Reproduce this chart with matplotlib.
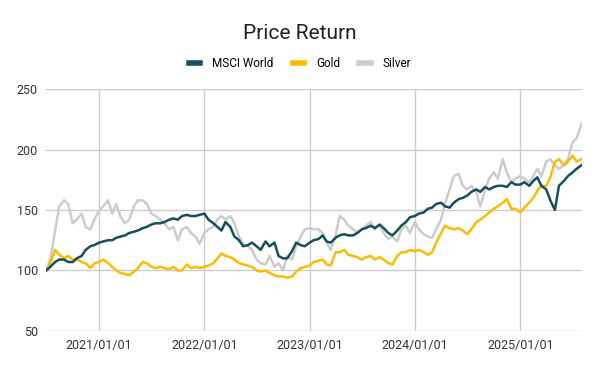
import numpy as np
import pandas as pd
import matplotlib
matplotlib.use("Agg")
import matplotlib.pyplot as plt

plt.rcParams['font.family'] = ['Roboto', 'DejaVu Sans']

# half-monthly readings, 2020-07-01 to 2025-08-01
dates = pd.date_range("2020-07-01", "2025-08-01", freq="SMS")

msci = [100, 103, 107, 109, 109, 107, 107, 110, 112, 117, 120, 121,
        123, 124, 125, 125, 127, 128, 129, 131, 132, 133, 135, 136,
        138, 139, 139, 140, 142, 143, 142, 145, 146, 145, 145, 146,
        147, 142, 139, 136, 133, 140, 136, 128, 125, 120, 121, 123,
        120, 117, 124, 120, 123, 112, 110, 110, 116, 123, 121, 120,
        123, 125,
        126, 129, 124, 123, 127, 129, 130, 129, 129, 131, 134, 135,
        137, 135, 138, 135, 131, 129, 133, 137, 140, 144, 145, 147,
        148, 151, 152, 155, 156, 153, 152, 156, 159, 160, 162, 165,
        167, 165, 169, 167, 169, 170, 170, 169, 173, 171, 171, 173,
        170, 174, 177, 170, 167, 158, 150, 170, 174, 178, 181, 184,
        187]

gold = [100, 106, 117, 113, 110, 112, 109, 109, 107, 106, 102, 106,
        107, 109, 106, 103, 100, 98, 97, 96, 99, 102, 107, 106,
        103, 102, 103, 102, 101, 103, 100, 100, 105, 102, 103, 102,
        103, 104, 106, 110, 114, 112, 111, 109, 106, 105, 104, 103,
        100, 99, 100, 98, 96, 95, 95, 94, 95, 99, 102, 103,
        104, 107,
        108, 109, 105, 104, 115, 115, 117, 113, 112, 111, 109, 111,
        112, 109, 111, 109, 106, 105, 112, 115, 115, 117, 116, 117,
        115, 113, 115, 123, 131, 137, 135, 134, 135, 133, 130, 134,
        140, 142, 145, 148, 151, 153, 156, 159, 151, 151, 148, 152,
        156, 160, 166, 170, 170, 177, 190, 192, 187, 190, 195, 190,
        192]

silver = [100, 109, 133, 153, 158, 155, 139, 142, 147, 136, 134, 142,
          150, 153, 158, 147, 155, 145, 139, 142, 153, 158, 158, 155,
          147, 145, 142, 139, 134, 136, 125, 134, 136, 131, 128, 122,
          131, 134, 136, 142, 145, 142, 145, 139, 128, 122, 120, 117,
          109, 106, 105, 112, 103, 106, 100, 112, 109, 120, 128, 134,
          135, 134,
          134, 131, 123, 117, 129, 145, 142, 137, 134, 131, 134, 137,
          140, 134, 137, 131, 126, 128, 124, 134, 137, 131, 140, 134,
          130, 128, 127, 134, 142, 156, 167, 178, 180, 170, 167, 170,
          165, 153, 167, 176, 181, 176, 192, 181, 173, 176, 178, 176,
          173, 178, 184, 178, 190, 192, 187, 184, 187, 192, 206, 209,
          221]

xtick_labels = ["2021/01/01", "2022/01/01", "2023/01/01", "2024/01/01", "2025/01/01"]
yticks = [50, 100, 150, 200, 250]

c_msci = '#174f5c'
c_gold = '#fbbc04'
c_silver = '#cccccc'

fig = plt.figure(figsize=(6, 3.71), dpi=100)
ax = fig.add_axes([0.077, 0.108, 0.893, 0.652])

ax.plot(dates, silver, color=c_silver, lw=1.8, label='Silver')
ax.plot(dates, gold, color=c_gold, lw=1.8, label='Gold')
ax.plot(dates, msci, color=c_msci, lw=1.8, label='MSCI World')

ax.set_ylim(50, 250)
ax.set_yticks(yticks)
ax.set_xlim(dates[0], pd.Timestamp("2025-08-03"))
ax.set_xticks([pd.Timestamp(s.replace('/', '-')) for s in xtick_labels])
ax.set_xticklabels(xtick_labels)

ax.grid(True, color='#cccccc', lw=1)
ax.set_axisbelow(True)
for s in ax.spines.values():
    s.set_visible(False)
ax.tick_params(length=0, labelsize=9, colors='#333333', pad=6)

fig.text(0.5, 0.91, 'Price Return', ha='center', va='center', fontsize=15, color='#222222')

h, l = ax.get_legend_handles_labels()
fig.legend(h[::-1], l[::-1], loc='center', bbox_to_anchor=(0.5, 0.828), ncol=3,
           frameon=False, fontsize=8.5, handlelength=1.0, handletextpad=1.0,
           columnspacing=1.6)
for line in fig.legends[0].get_lines():
    line.set_linewidth(4)

fig.savefig('out.png', dpi=100)
